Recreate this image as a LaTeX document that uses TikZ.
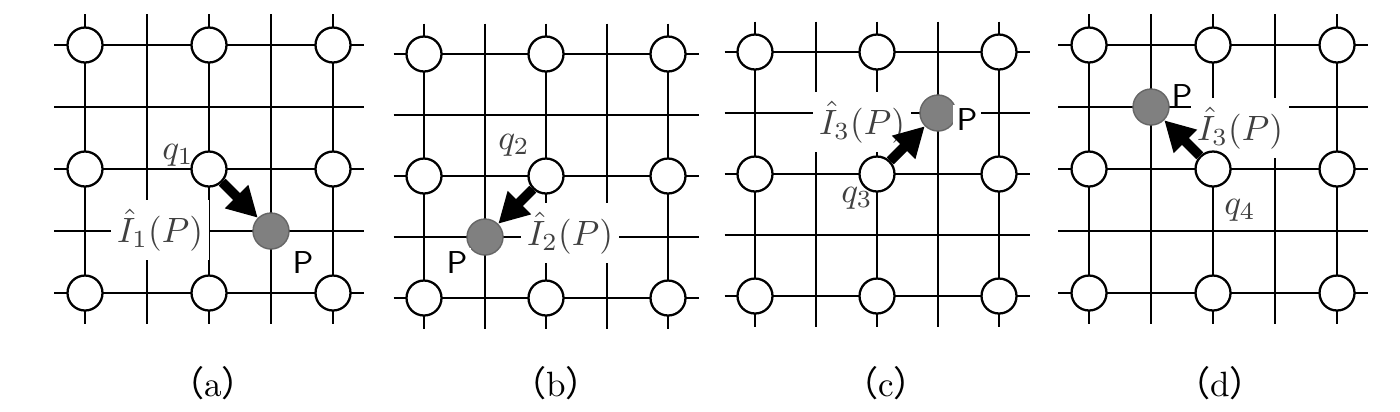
\documentclass[tikz,border=0pt]{standalone}
\usepackage{fontspec}
\newfontfamily\cjk{Noto Sans CJK SC}
\usepackage{amsmath}
\usetikzlibrary{arrows.meta, positioning, calc}
\definecolor{pointgray}{HTML}{808080}
\definecolor{pointedge}{HTML}{666666}

% grid of one panel: x0, y0, spacing
\newcommand{\gridlines}[3]{%
  \foreach \k in {0,...,4} {
    \draw[gridline] ({#1-0.5*#3},{#2+\k*#3}) -- ({#1+4.5*#3},{#2+\k*#3});
    \draw[gridline] ({#1+\k*#3},{#2-0.5*#3}) -- ({#1+\k*#3},{#2+4.5*#3});
  }%
}
% open nodes of one panel: name, x0, y0, spacing
\newcommand{\gridnodes}[4]{%
  \foreach \i in {0,2,4} {
    \foreach \j in {0,2,4} {
      \node[opennode] (#1-\i-\j) at ({#2+\i*#4},{#3+\j*#4}) {};
    }
  }%
}

\begin{document}
\begin{tikzpicture}[x=0.1mm, y=-0.1mm,
    gridline/.style={line width=0.6pt},
    opennode/.style={circle, draw, line width=0.65pt, fill=white, minimum size=3.5mm, inner sep=0pt},
    pointnode/.style={circle, draw=pointedge, fill=pointgray, line width=0.4pt, minimum size=3.6mm, inner sep=0pt},
    movearrow/.style={line width=2.8pt, -{Triangle[length=3mm, width=3.1mm]}},
    estlabel/.style={fill=white, inner xsep=0.6mm, inner ysep=0.9mm, font=\normalsize, text=black!75},
    qlabel/.style={font=\normalsize, text=black!75},
    plabel/.style={fill=white, inner sep=0.4mm, font=\sffamily\small},
    caption/.style={font=\normalsize}]
  \useasboundingbox (0,0) rectangle (1400,411);

  % Gitter
  \gridlines{85}{45}{62}
  \gridlines{424}{54}{61}
  \gridlines{755}{52}{61}
  \gridlines{1089}{45}{62}

  % Schaetzwerte (weisser Hintergrund ueber den Linien)
  \node[estlabel] (a-est) at (160,230) {$\hat{I}_1(P)$};
  \node[estlabel] (b-est) at (570,233) {$\hat{I}_2(P)$};
  \node[estlabel] (c-est) at (862,122) {$\hat{I}_3(P)$};
  \node[estlabel] (d-est) at (1240,128) {$\hat{I}_3(P)$};

  % Knoten
  \gridnodes{a}{85}{45}{62}
  \gridnodes{b}{424}{54}{61}
  \gridnodes{c}{755}{52}{61}
  \gridnodes{d}{1089}{45}{62}

  % Punkte P
  \node[pointnode] (a-P) at (271,231) {};
  \node[pointnode] (b-P) at (485,237) {};
  \node[pointnode] (c-P) at (938,113) {};
  \node[pointnode] (d-P) at (1151,107) {};

  % Pfeile
  \draw[movearrow] (a-2-2) -- (a-P);
  \draw[movearrow] (b-2-2) -- (b-P);
  \draw[movearrow] (c-2-2) -- (c-P);
  \draw[movearrow] (d-2-2) -- (d-P);

  % Beschriftungen
  \node[qlabel] (a-q) at (178,155) {$q_1$};
  \node[qlabel] (b-q) at (514,145) {$q_2$};
  \node[qlabel] (c-q) at (857,198) {$q_3$};
  \node[qlabel] (d-q) at (1240,210) {$q_4$};
  \node[plabel] (a-Pl) at (303,262) {P};
  \node[plabel] (b-Pl) at (457,263) {P};
  \node[plabel] (c-Pl) at (967,120) {P};
  \node[plabel, fill=none] (d-Pl) at (1182,96) {P};

  \node[caption] (a-cap) at (213,383) {{\cjk （}a{\cjk ）}};
  \node[caption] (b-cap) at (556,383) {{\cjk （}b{\cjk ）}};
  \node[caption] (c-cap) at (886,383) {{\cjk （}c{\cjk ）}};
  \node[caption] (d-cap) at (1220,383) {{\cjk （}d{\cjk ）}};
\end{tikzpicture}
\end{document}
